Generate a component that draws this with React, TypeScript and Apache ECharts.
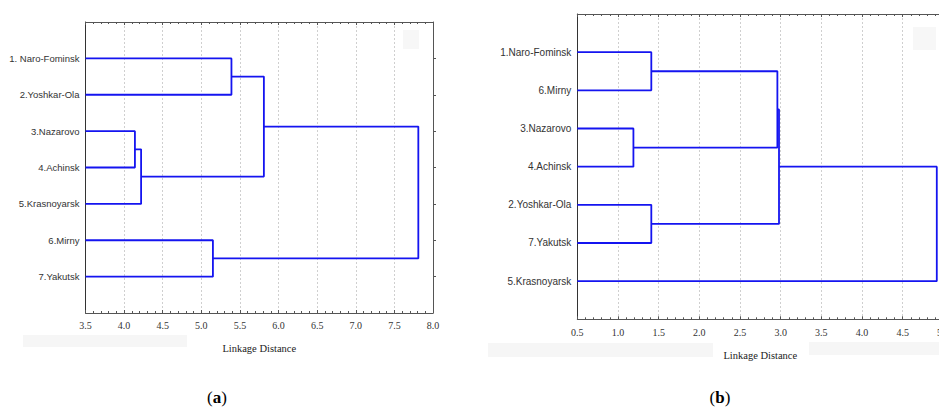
import React, { useEffect, useRef } from 'react';
import * as echarts from 'echarts';

// ---------- Data ----------
// Panel (a): leaves top-to-bottom
const leavesA = ['1. Naro-Fominsk', '2.Yoshkar-Ola', '3.Nazarovo', '4.Achinsk', '5.Krasnoyarsk', '6.Mirny', '7.Yakutsk'];
// merges: [node, node, linkage distance]; nodes 0..6 are leaves, 7.. are clusters in merge order
const mergesA: [number, number, number][] = [
  [2, 3, 4.14],
  [7, 4, 4.22],
  [0, 1, 5.39],
  [5, 6, 5.15],
  [9, 8, 5.81],
  [11, 10, 7.81],
];
const axisMinA = 3.5;
const axisMaxA = 8.0;

// Panel (b)
const leavesB = ['1.Naro-Fominsk', '6.Mirny', '3.Nazarovo', '4.Achinsk', '2.Yoshkar-Ola', '7.Yakutsk', '5.Krasnoyarsk'];
const mergesB: [number, number, number][] = [
  [2, 3, 1.19],
  [0, 1, 1.41],
  [4, 5, 1.41],
  [8, 7, 2.96],
  [10, 9, 2.98],
  [11, 6, 4.92],
];
const axisMinB = 0.5;
const axisMaxB = 5.0;

const xStep = 0.5;
const axisTitle = 'Linkage Distance';

// ---------- Helpers ----------
function buildLinks(leafCount: number, merges: [number, number, number][], minX: number) {
  const pos: [number, number][] = [];
  for (let i = 0; i < leafCount; i++) pos.push([minX, i + 1]);
  const links: [number, number][][] = [];
  merges.forEach(([a, b, h]) => {
    const pa = pos[a];
    const pb = pos[b];
    links.push([
      [pa[0], pa[1]],
      [h, pa[1]],
      [h, pb[1]],
      [pb[0], pb[1]],
    ]);
    pos.push([h, (pa[1] + pb[1]) / 2]);
  });
  return links;
}

const LINE_COLOR = '#1414f0';
const AXIS_COLOR = '#555';

function xAxes(gridIndex: number, min: number, max: number, labelMargin: number, nameGap: number) {
  const common = {
    type: 'value' as const,
    gridIndex,
    min,
    max,
    interval: xStep,
    axisLine: { show: true, onZero: false, lineStyle: { color: AXIS_COLOR, width: 1 } },
    axisTick: { show: true, inside: true, length: 3, lineStyle: { color: AXIS_COLOR } },
    minorTick: { show: true, splitNumber: 5, length: 2, lineStyle: { color: AXIS_COLOR } },
  };
  return [
    {
      ...common,
      position: 'bottom',
      splitLine: { show: true, lineStyle: { color: '#cfcfcf', type: [2, 2], width: 1 } },
      axisLabel: {
        margin: labelMargin,
        fontFamily: 'Liberation Serif',
        fontSize: 10,
        color: '#333',
        formatter: (v: number) => v.toFixed(1),
      },
      name: axisTitle,
      nameLocation: 'middle',
      nameGap,
      nameTextStyle: { fontFamily: 'Liberation Serif', fontSize: 10.5, color: '#222' },
    },
    {
      ...common,
      position: 'top',
      splitLine: { show: false },
      axisLabel: { show: false },
    },
  ];
}

function yAxes(gridIndex: number, leaves: string[], fontSize: number) {
  const common = {
    type: 'value' as const,
    gridIndex,
    min: 0,
    max: leaves.length + 1,
    interval: 1,
    inverse: true,
    splitLine: { show: false },
  };
  return [
    {
      ...common,
      position: 'left',
      axisLine: { show: true, onZero: false, lineStyle: { color: '#333', width: 1 } },
      axisTick: { show: false },
      axisLabel: {
        margin: 6,
        fontFamily: 'Liberation Sans',
        fontSize,
        color: '#333',
        formatter: (v: number) => (v >= 1 && v <= leaves.length ? leaves[v - 1] : ''),
      },
    },
    {
      ...common,
      position: 'right',
      axisLine: { show: true, onZero: false, lineStyle: { color: AXIS_COLOR, width: 1 } },
      axisTick: {
        show: true,
        inside: false,
        length: 3,
        lineStyle: { color: AXIS_COLOR },
        customValues: leaves.map((_, i) => i + 1),
      },
      axisLabel: { show: false },
    },
  ];
}

export default function App() {
  const ref = useRef<HTMLDivElement>(null);

  useEffect(() => {
    document.body.style.margin = '0';
    if (!ref.current) return;
    const chart = echarts.init(ref.current, undefined, { renderer: 'svg' });

    const linksA = buildLinks(leavesA.length, mergesA, axisMinA);
    const linksB = buildLinks(leavesB.length, mergesB, axisMinB);

    const series: any[] = [];
    linksA.forEach((l) =>
      series.push({
        type: 'line',
        xAxisIndex: 0,
        yAxisIndex: 0,
        data: l,
        showSymbol: false,
        symbol: 'none',
        silent: true,
        lineStyle: { color: LINE_COLOR, width: 1.8 },
        z: 3,
      })
    );
    linksB.forEach((l) =>
      series.push({
        type: 'line',
        xAxisIndex: 2,
        yAxisIndex: 2,
        data: l,
        showSymbol: false,
        symbol: 'none',
        silent: true,
        lineStyle: { color: LINE_COLOR, width: 1.8 },
        z: 3,
      })
    );

    const faint = '#f6f6f6';
    chart.setOption({
      animation: false,
      backgroundColor: '#ffffff',
      grid: [
        { left: 85.5, top: 22, width: 347.5, height: 291, containLabel: false, outerBoundsMode: 'none' },
        { left: 577.3, top: 14, width: 366, height: 305.3, containLabel: false, outerBoundsMode: 'none' },
      ],
      xAxis: [
        ...xAxes(0, axisMinA, axisMaxA, 7, 30),
        ...xAxes(1, axisMinB, axisMaxB, 8, 31),
      ],
      yAxis: [...yAxes(0, leavesA, 9.5), ...yAxes(1, leavesB, 10)],
      series,
      graphic: [
        { type: 'rect', shape: { x: 23, y: 335, width: 164, height: 12 }, style: { fill: faint }, z: -1 },
        { type: 'rect', shape: { x: 488, y: 343, width: 225, height: 14 }, style: { fill: faint }, z: -1 },
        { type: 'rect', shape: { x: 809, y: 342, width: 130, height: 13 }, style: { fill: faint }, z: -1 },
        { type: 'rect', shape: { x: 403, y: 30, width: 16, height: 19 }, style: { fill: '#f7f7f7' }, z: -1 },
        { type: 'rect', shape: { x: 913, y: 27, width: 23, height: 23 }, style: { fill: '#f7f7f7' }, z: -1 },
        {
          type: 'text',
          x: 217,
          y: 397,
          style: {
            text: '{n|(}{b|a}{n|)}',
            align: 'center',
            verticalAlign: 'middle',
            rich: {
              n: { fontFamily: 'Liberation Serif', fontSize: 17, fill: '#000' },
              b: { fontFamily: 'Liberation Serif', fontSize: 17, fontWeight: 'bold', fill: '#000' },
            },
          },
        },
        {
          type: 'text',
          x: 720,
          y: 397,
          style: {
            text: '{n|(}{b|b}{n|)}',
            align: 'center',
            verticalAlign: 'middle',
            rich: {
              n: { fontFamily: 'Liberation Serif', fontSize: 17, fill: '#000' },
              b: { fontFamily: 'Liberation Serif', fontSize: 17, fontWeight: 'bold', fill: '#000' },
            },
          },
        },
      ],
    });

    return () => chart.dispose();
  }, []);

  return <div ref={ref} style={{ position: 'absolute', left: 0, top: 0, width: 939, height: 407 }} />;
}
